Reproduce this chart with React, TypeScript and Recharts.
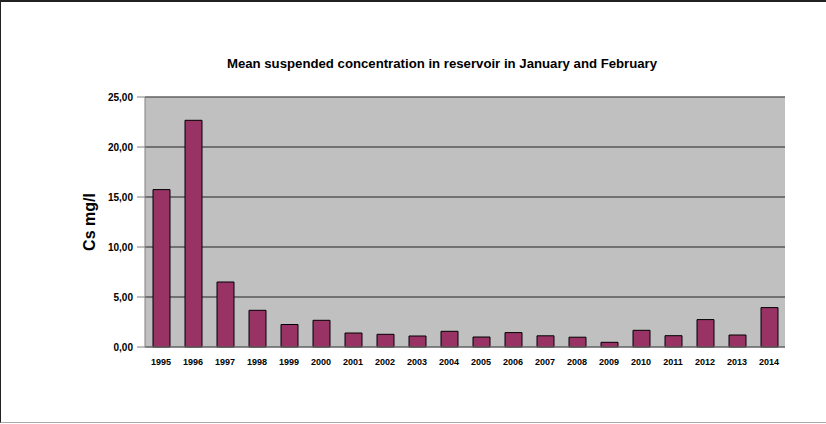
import React from 'react';
import { BarChart, Bar, XAxis, YAxis, CartesianGrid, ReferenceLine } from 'recharts';

const years = ['1995','1996','1997','1998','1999','2000','2001','2002','2003','2004','2005','2006','2007','2008','2009','2010','2011','2012','2013','2014'];
const cs = [15.74, 22.67, 6.5, 3.67, 2.25, 2.67, 1.4, 1.27, 1.1, 1.57, 1.0, 1.44, 1.12, 0.98, 0.47, 1.67, 1.13, 2.74, 1.2, 3.94];
const yTicks = [0, 5, 10, 15, 20, 25];
const title = 'Mean suspended concentration in reservoir in January and February';
const yLabel = 'Cs mg/l';

const data = years.map((y, i) => ({ year: y, cs: cs[i] }));
const FONT = "Arial, 'Liberation Sans', sans-serif";

const YLabel = (props: any) => {
  const vb = props.viewBox || {};
  const cx = vb.x + 4;
  const cy = vb.y + vb.height / 2;
  return (
    <text x={cx} y={cy} transform={`rotate(-90, ${cx}, ${cy})`} textAnchor="middle" dominantBaseline="central"
      fontFamily={FONT} fontWeight="bold" fontSize={16} fill="#000">{yLabel}</text>
  );
};

export default function App() {
  return (
    <div style={{ position: 'absolute', left: 0, top: 0, width: 826, height: 424, background: '#fff', fontFamily: FONT }}>
      <div style={{ position: 'absolute', left: 0, top: 0, width: 826, height: 423, boxSizing: 'border-box', borderTop: '2px solid #222', borderLeft: '1px solid #222', borderBottom: '1px solid #aaa' }} />
      <div style={{ position: 'absolute', left: 442, top: 56, transform: 'translateX(-50%)', whiteSpace: 'nowrap', fontWeight: 'bold', fontSize: 13.2, color: '#000', lineHeight: '16px' }}>{title}</div>
      <div style={{ position: 'absolute', left: 0, top: 0 }}>
        <BarChart width={826} height={424} data={data} margin={{ top: 97, right: 41, bottom: 57, left: 85 }} barSize={17}>
          <CartesianGrid horizontal={true} vertical={false} fill="#C0C0C0" stroke="#222" strokeOpacity={1} />
          <XAxis dataKey="year" height={20} axisLine={{ stroke: '#808080' }} tickLine={false} tickMargin={6}
            tick={{ fontFamily: FONT, fontWeight: 'bold', fontSize: 9, fill: '#000' }} interval={0} />
          <YAxis width={60} domain={[0, 25]} ticks={yTicks} axisLine={{ stroke: '#808080' }} tickLine={{ stroke: '#808080' }}
            tickSize={8} tickMargin={4}
            tickFormatter={(v: number) => v.toFixed(2).replace('.', ',')}
            tick={{ fontFamily: FONT, fontWeight: 'bold', fontSize: 10, fill: '#000' }}
            label={{ content: YLabel }} />
          <YAxis yAxisId="r" orientation="right" width={0} domain={[0, 25]} tick={false} tickLine={false} axisLine={{ stroke: '#808080' }} />
          <ReferenceLine y={25} stroke="#808080" />
          <Bar dataKey="cs" fill="#993366" stroke="#000" strokeWidth={1} isAnimationActive={false} />
        </BarChart>
      </div>
    </div>
  );
}
